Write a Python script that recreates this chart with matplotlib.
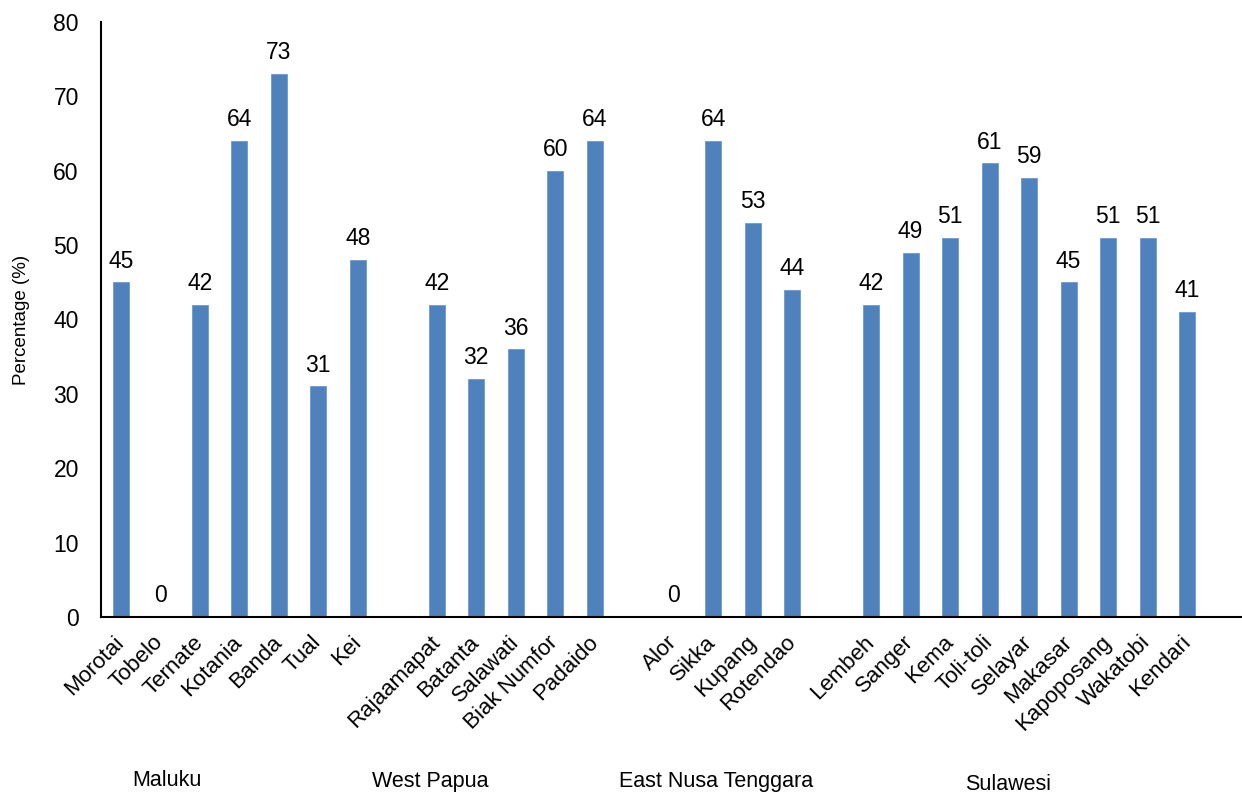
import matplotlib
matplotlib.use("Agg")
import matplotlib.pyplot as plt

groups = ["Maluku", "West Papua", "East Nusa Tenggara", "Sulawesi"]
maluku_sites = ["Morotai", "Tobelo", "Ternate", "Kotania", "Banda", "Tual", "Kei"]
maluku_vals = [45, 0, 42, 64, 73, 31, 48]
papua_sites = ["Rajaamapat", "Batanta", "Salawati", "Biak Numfor", "Padaido"]
papua_vals = [42, 32, 36, 60, 64]
ent_sites = ["Alor", "Sikka", "Kupang", "Rotendao"]
ent_vals = [0, 64, 53, 44]
sul_sites = ["Lembeh", "Sanger", "Kema", "Toli-toli", "Selayar", "Makasar",
             "Kapoposang", "Wakatobi", "Kendari"]
sul_vals = [42, 49, 51, 61, 59, 45, 51, 51, 41]
yticks = [0, 10, 20, 30, 40, 50, 60, 70, 80]

plt.rcParams['font.family'] = ['Liberation Sans', 'DejaVu Sans']

fig = plt.figure(figsize=(12.42, 7.96), dpi=100)
ax = fig.add_axes([101/1242, 1 - 617/796, 1 - 101/1242, (617 - 22)/796])

all_sites = [maluku_sites, papua_sites, ent_sites, sul_sites]
all_vals = [maluku_vals, papua_vals, ent_vals, sul_vals]
pos = 0
xs, labels, vals = [], [], []
for sites, v in zip(all_sites, all_vals):
    for s, val in zip(sites, v):
        xs.append(pos); labels.append(s); vals.append(val)
        pos += 1
    pos += 1

color = "#4F81BD"
ax.bar(xs, vals, width=0.41, color=color, edgecolor="#6f9ad0", linewidth=0.6)
for x, v in zip(xs, vals):
    ax.annotate(f"{v}", (x, v), xytext=(0, 7), textcoords="offset points",
                ha="center", va="bottom", fontsize=16.5)

ax.set_xlim(-0.5, 28.39)
ax.set_ylim(0, 80)
ax.set_yticks(yticks)
ax.tick_params(axis='y', length=0, labelsize=16.5, pad=16)
ax.set_xticks(xs)
ax.set_xticklabels(labels, rotation=45, ha='right', va='center',
                   rotation_mode='anchor', fontsize=16)
ax.tick_params(axis='x', length=0, pad=16)
for side in ['top', 'right']:
    ax.spines[side].set_visible(False)
for side in ['left', 'bottom']:
    ax.spines[side].set_linewidth(1.5)
    ax.spines[side].set_color('black')

ax.set_ylabel("Percentage (%)", fontsize=13.5)
ax.yaxis.set_label_coords(-0.062, 0.5)

group_pos = [(167, 780), (430, 781), (716, 781), (1008, 785)]
for g, (gx, gy) in zip(groups, group_pos):
    fig.text(gx/1242, 1 - gy/796, g, ha='center', va='center', fontsize=15.5)

fig.savefig("out.png", dpi=100)
